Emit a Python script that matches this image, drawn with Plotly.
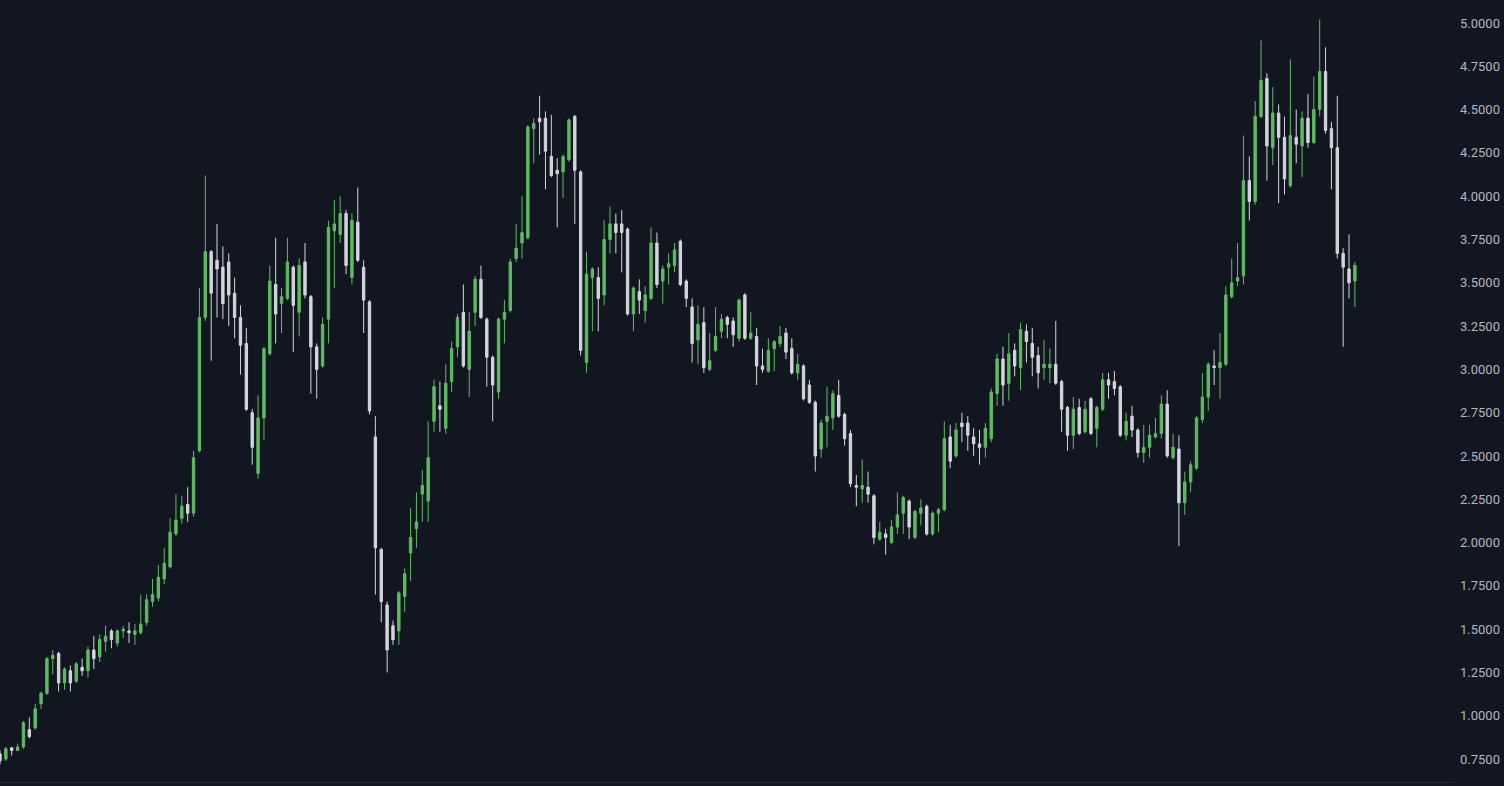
import plotly.graph_objects as go

# OHLC values (one candle per period)
opens = [0.78, 0.75, 0.815, 0.80, 0.82, 0.92, 0.93, 1.07, 1.13, 1.33,
         1.36, 1.19, 1.26, 1.20, 1.28, 1.26, 1.38, 1.34, 1.43, 1.49,
         1.42, 1.49, 1.49, 1.47, 1.48, 1.54, 1.66, 1.68, 1.79, 1.86,
         2.05, 2.14, 2.22, 2.17, 2.53, 3.30, 3.68, 3.63, 3.59, 3.62,
         3.44, 3.30, 3.15, 2.75, 2.40, 2.72, 3.09, 3.49, 3.38, 3.41,
         3.59, 3.33, 3.62, 3.42, 3.13, 3.02, 3.29, 3.80, 3.78, 3.90,
         3.53, 3.85, 3.59, 3.39, 2.61, 1.96, 1.64, 1.52, 1.49, 1.69,
         1.94, 2.08, 2.28, 2.24, 2.70, 2.79, 2.66, 2.93, 3.13, 3.33,
         3.00, 3.33, 3.52, 3.29, 3.07, 2.87, 3.29, 3.34, 3.64, 3.73,
         3.76, 4.39, 4.45, 4.45, 4.23, 4.15, 4.14, 4.21, 4.46, 4.14,
         3.04, 3.53, 3.53, 3.43, 3.75, 3.84, 3.84, 3.81, 3.32, 3.45,
         3.34, 3.41, 3.73, 3.51, 3.59, 3.60, 3.74, 3.51, 3.36, 3.17,
         3.27, 3.00, 3.11, 3.22, 3.30, 3.28, 3.18, 3.43, 3.18, 3.19,
         3.02, 2.99, 3.12, 3.15, 3.21, 3.12, 2.98, 3.02, 2.91, 2.81,
         2.54, 2.70, 2.72, 2.85, 2.74, 2.63, 2.33, 2.31, 2.32, 2.27,
         2.02, 2.05, 2.00, 2.09, 2.17, 2.24, 2.03, 2.17, 2.21, 2.05,
         2.17, 2.19, 2.61, 2.50, 2.69, 2.69, 2.61, 2.57, 2.55, 2.60,
         2.86, 3.06, 2.92, 3.11, 3.01, 3.22, 3.15, 3.08, 3.01, 3.01,
         3.03, 2.93, 2.78, 2.62, 2.78, 2.64, 2.83, 2.66, 2.77, 2.94,
         2.93, 2.90, 2.62, 2.73, 2.65, 2.52, 2.55, 2.61, 2.63, 2.80,
         2.49, 2.54, 2.23, 2.35, 2.43, 2.71, 2.84, 3.02, 3.01, 3.03,
         3.42, 3.51, 3.54, 4.09, 3.97, 4.46, 4.68, 4.28, 4.48, 4.34,
         4.06, 4.34, 4.29, 4.45, 4.31, 4.50, 4.72, 4.39, 4.28, 3.67,
         3.58, 3.51]
highs = [0.80, 0.82, 0.82, 0.84, 0.97, 0.99, 1.07, 1.14, 1.34, 1.38,
         1.37, 1.28, 1.29, 1.31, 1.33, 1.40, 1.46, 1.47, 1.52, 1.50,
         1.50, 1.52, 1.54, 1.53, 1.70, 1.70, 1.79, 1.87, 1.97, 2.14,
         2.28, 2.27, 2.32, 2.53, 3.47, 4.12, 3.69, 3.84, 3.71, 3.67,
         3.53, 3.37, 3.24, 2.77, 2.85, 3.13, 3.60, 3.76, 3.47, 3.76,
         3.60, 3.64, 3.73, 3.43, 3.15, 3.30, 3.86, 3.98, 4.00, 3.92,
         3.90, 4.05, 3.63, 3.40, 2.73, 1.97, 1.66, 1.55, 1.72, 1.85,
         2.20, 2.29, 2.42, 2.70, 2.94, 2.93, 3.03, 3.16, 3.32, 3.49,
         3.33, 3.54, 3.60, 3.30, 3.08, 3.30, 3.40, 3.64, 3.84, 4.00,
         4.41, 4.45, 4.58, 4.49, 4.47, 4.22, 4.24, 4.45, 4.47, 4.15,
         3.68, 3.59, 3.59, 3.86, 3.94, 3.90, 3.92, 3.82, 3.48, 3.52,
         3.48, 3.82, 3.79, 3.60, 3.67, 3.73, 3.75, 3.52, 3.41, 3.37,
         3.36, 3.21, 3.36, 3.32, 3.31, 3.30, 3.41, 3.44, 3.33, 3.24,
         3.12, 3.18, 3.17, 3.25, 3.24, 3.18, 3.09, 3.03, 2.94, 2.82,
         2.71, 2.90, 2.88, 2.94, 2.75, 2.65, 2.39, 2.48, 2.41, 2.28,
         2.12, 2.08, 2.13, 2.29, 2.27, 2.25, 2.19, 2.25, 2.22, 2.18,
         2.20, 2.70, 2.68, 2.69, 2.75, 2.73, 2.66, 2.65, 2.69, 2.89,
         3.09, 3.13, 3.21, 3.15, 3.27, 3.26, 3.24, 3.13, 3.17, 3.12,
         3.28, 2.94, 2.79, 2.84, 2.83, 2.82, 2.84, 2.79, 2.98, 2.98,
         2.99, 2.91, 2.75, 2.79, 2.66, 2.68, 2.68, 2.72, 2.85, 2.88,
         2.63, 2.62, 2.41, 2.47, 2.73, 2.98, 3.04, 3.11, 3.21, 3.48,
         3.64, 3.73, 4.35, 4.23, 4.55, 4.90, 4.71, 4.63, 4.53, 4.46,
         4.79, 4.50, 4.49, 4.59, 4.69, 5.02, 4.86, 4.43, 4.58, 3.70,
         3.78, 3.62]
lows = [0.72, 0.74, 0.77, 0.80, 0.81, 0.87, 0.92, 1.04, 1.12, 1.24,
        1.14, 1.15, 1.14, 1.19, 1.23, 1.22, 1.27, 1.31, 1.37, 1.39,
        1.40, 1.45, 1.42, 1.41, 1.47, 1.52, 1.63, 1.66, 1.76, 1.85,
        2.04, 2.11, 2.12, 2.15, 2.52, 3.28, 3.05, 3.30, 3.29, 3.25,
        3.18, 2.97, 2.76, 2.45, 2.37, 2.59, 3.08, 3.15, 3.21, 3.40,
        3.10, 3.19, 3.41, 2.86, 2.83, 3.01, 3.15, 3.47, 3.73, 3.55,
        3.49, 3.62, 3.21, 2.74, 1.70, 1.54, 1.25, 1.41, 1.41, 1.60,
        1.78, 1.97, 2.12, 2.12, 2.64, 2.64, 2.63, 2.87, 3.07, 3.01,
        2.84, 3.25, 3.29, 2.90, 2.70, 2.83, 3.15, 3.33, 3.62, 3.64,
        3.75, 4.19, 4.24, 4.04, 4.11, 3.82, 3.99, 4.20, 3.84, 3.08,
        2.98, 3.22, 3.22, 3.37, 3.67, 3.67, 3.56, 3.31, 3.22, 3.32,
        3.27, 3.40, 3.47, 3.38, 3.49, 3.56, 3.48, 3.36, 3.04, 3.03,
        2.98, 2.99, 3.10, 3.18, 3.18, 3.13, 3.16, 3.17, 3.17, 2.91,
        2.98, 2.98, 2.99, 3.13, 3.06, 2.97, 2.94, 2.82, 2.80, 2.41,
        2.49, 2.55, 2.65, 2.72, 2.56, 2.32, 2.21, 2.23, 2.23, 1.99,
        2.01, 1.93, 1.99, 2.05, 2.05, 2.02, 2.02, 2.10, 2.04, 2.04,
        2.06, 2.18, 2.43, 2.49, 2.58, 2.53, 2.50, 2.45, 2.49, 2.58,
        2.79, 2.79, 2.82, 2.96, 2.88, 3.04, 2.96, 2.89, 2.94, 2.92,
        2.91, 2.64, 2.53, 2.54, 2.62, 2.63, 2.62, 2.55, 2.76, 2.83,
        2.85, 2.61, 2.59, 2.61, 2.49, 2.46, 2.49, 2.60, 2.60, 2.49,
        2.48, 1.98, 2.16, 2.29, 2.42, 2.69, 2.76, 2.91, 2.83, 3.02,
        3.41, 3.48, 3.49, 3.86, 3.95, 4.45, 4.09, 4.18, 3.96, 4.01,
        4.05, 4.19, 4.11, 4.28, 4.30, 4.46, 4.36, 4.04, 3.64, 3.13,
        3.41, 3.36]
closes = [0.74, 0.81, 0.80, 0.82, 0.96, 0.88, 1.04, 1.13, 1.33, 1.35,
          1.19, 1.27, 1.19, 1.30, 1.26, 1.38, 1.33, 1.44, 1.46, 1.44,
          1.49, 1.50, 1.48, 1.49, 1.53, 1.67, 1.70, 1.80, 1.88, 2.06,
          2.13, 2.21, 2.17, 2.49, 3.30, 3.68, 3.44, 3.58, 3.38, 3.43,
          3.30, 3.14, 2.77, 2.55, 2.72, 3.12, 3.51, 3.32, 3.42, 3.62,
          3.37, 3.60, 3.43, 3.13, 3.00, 3.26, 3.82, 3.84, 3.90, 3.60,
          3.86, 3.63, 3.40, 2.76, 1.97, 1.66, 1.38, 1.44, 1.71, 1.82,
          2.03, 2.12, 2.33, 2.49, 2.90, 2.77, 2.92, 3.12, 3.30, 3.02,
          3.22, 3.52, 3.30, 3.07, 2.91, 3.29, 3.33, 3.62, 3.70, 3.79,
          4.40, 4.42, 4.43, 4.26, 4.12, 4.13, 4.23, 4.44, 4.15, 3.11,
          3.55, 3.58, 3.41, 3.75, 3.84, 3.79, 3.79, 3.32, 3.47, 3.40,
          3.43, 3.73, 3.49, 3.58, 3.61, 3.69, 3.49, 3.41, 3.15, 3.26,
          3.01, 3.05, 3.19, 3.29, 3.26, 3.20, 3.40, 3.18, 3.21, 3.02,
          3.00, 3.11, 3.16, 3.19, 3.10, 2.98, 3.03, 2.83, 2.81, 2.50,
          2.69, 2.73, 2.86, 2.73, 2.60, 2.34, 2.32, 2.33, 2.28, 2.03,
          2.06, 2.03, 2.09, 2.16, 2.26, 2.09, 2.18, 2.20, 2.05, 2.17,
          2.19, 2.60, 2.47, 2.65, 2.67, 2.62, 2.57, 2.55, 2.66, 2.87,
          3.06, 2.91, 3.09, 3.02, 3.23, 3.16, 3.07, 2.98, 3.03, 3.03,
          2.92, 2.77, 2.62, 2.77, 2.63, 2.77, 2.63, 2.78, 2.94, 2.91,
          2.89, 2.62, 2.70, 2.65, 2.52, 2.55, 2.62, 2.63, 2.80, 2.50,
          2.55, 2.23, 2.35, 2.45, 2.72, 2.84, 3.03, 3.01, 3.04, 3.43,
          3.50, 3.53, 4.09, 3.97, 4.46, 4.67, 4.29, 4.48, 4.34, 4.10,
          4.35, 4.30, 4.45, 4.31, 4.50, 4.72, 4.38, 4.28, 3.67, 3.59,
          3.50, 3.60]
periods = list(range(len(closes)))

tick_values = [0.75, 1.0, 1.25, 1.5, 1.75, 2.0, 2.25, 2.5, 2.75, 3.0,
               3.25, 3.5, 3.75, 4.0, 4.25, 4.5, 4.75, 5.0]
tick_labels = [f"{v:.4f}" for v in tick_values]

BG = "#121621"
UP = "#5dbc61"
DOWN = "#d4d6dd"

fig = go.Figure(go.Candlestick(
    x=periods, open=opens, high=highs, low=lows, close=closes,
    increasing=dict(line=dict(color=UP, width=1), fillcolor=UP),
    decreasing=dict(line=dict(color=DOWN, width=1), fillcolor=DOWN),
    whiskerwidth=0,
    hoverinfo="skip",
))

fig.update_layout(
    width=1504, height=786,
    paper_bgcolor=BG, plot_bgcolor=BG,
    margin=dict(l=0, r=50, t=0, b=4),
    showlegend=False,
    boxgap=0.42,
    xaxis=dict(range=[0, 247.9], showgrid=False, zeroline=False,
               showticklabels=False, ticks="", rangeslider=dict(visible=False),
               showline=True, linecolor="#262a35", linewidth=1),
    yaxis=dict(side="right", range=[0.6178, 5.1328], showgrid=False,
               zeroline=False, showline=False, ticks="",
               tickmode="array", tickvals=tick_values, ticktext=tick_labels,
               ticklabelstandoff=5, automargin=False,
               tickfont=dict(family="Roboto, 'Open Sans', sans-serif",
                             size=13, color="#b2b5be")),
)

fig.write_html(
    "out.html",
    config=dict(displayModeBar=False),
    post_script="document.body.style.margin='0px';"
                "document.body.style.background='#121621';",
)
